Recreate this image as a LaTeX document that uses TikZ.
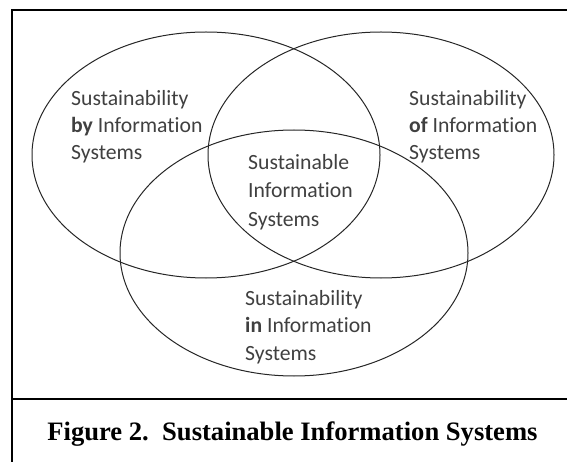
\documentclass[tikz,border=0pt]{standalone}
\usepackage{fontspec}
\setmainfont{Carlito}[Ligatures=CommonOff]
\newfontfamily\capfont{Liberation Serif}
\begin{document}
\begin{tikzpicture}[x=1pt,y=-1pt,
  frameline/.style={line width=2pt,black},
  setline/.style={line width=1pt,black!85},
  lbl/.style={anchor=base west,inner sep=0pt,text=black!75,font=\fontsize{21.7}{27}\selectfont},
  captext/.style={anchor=base,inner sep=0pt,font=\capfont\bfseries\fontsize{26.6}{30}\selectfont}]
\useasboundingbox (0,0) rectangle (567,462);
% frame
\draw[frameline] (567,10) -- (12,10) -- (12,462);
\draw[frameline] (12,399) -- (567,399);
% sets
\draw[setline] (206,155) ellipse [x radius=174, y radius=123];
\draw[setline] (381,155) ellipse [x radius=173, y radius=123];
\draw[setline] (294,253) ellipse [x radius=174, y radius=123];
% labels
\node[lbl] (by1) at (71,106) {Sustainability};
\node[lbl] (by2) at (71,133) {\textbf{by} Information};
\node[lbl] (by3) at (71,160) {Systems};
\node[lbl] (of1) at (409,106) {Sustainability};
\node[lbl] (of2) at (409,133) {\textbf{of} Information};
\node[lbl] (of3) at (409,160) {Systems};
\node[lbl] (si1) at (248,170) {Sustainable};
\node[lbl] (si2) at (248,198) {Information};
\node[lbl] (si3) at (248,226) {Systems};
\node[lbl] (in1) at (245,305) {Sustainability};
\node[lbl] (in2) at (245,332) {\textbf{in} Information};
\node[lbl] (in3) at (245,360) {Systems};
% caption
\node[captext] (caption) at (292.5,440) {Figure 2.\ \ Sustainable Information Systems};
\end{tikzpicture}
\end{document}
